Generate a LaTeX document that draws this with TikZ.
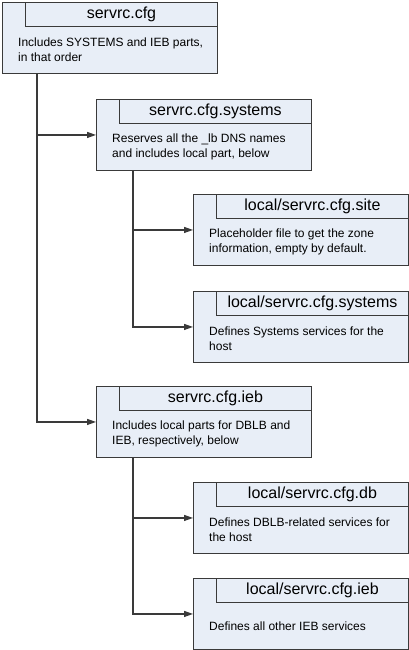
\documentclass[tikz,border=0pt]{standalone}
\usepackage{fontspec}
\setmainfont{Liberation Sans}
\usetikzlibrary{arrows.meta}
\definecolor{boxfill}{HTML}{E8EEF7}
\definecolor{edge}{HTML}{3A3A3A}
\tikzset{
  outer/.style={draw=edge, fill=boxfill, line width=0.9pt, minimum width=215pt, minimum height=71pt, anchor=north west, inner sep=0pt},
  titlebox/.style={draw=edge, fill=boxfill, line width=0.9pt, minimum width=192pt, minimum height=24pt, anchor=north east, inner sep=0pt, font=\fontsize{16}{18}\selectfont},
  bodytext/.style={anchor=west, align=left, inner sep=0pt, font=\fontsize{12}{14.5}\selectfont},
  conn/.style={draw=edge, line width=1.2pt, -{Triangle[length=9pt,width=6pt]}},
  plainconn/.style={draw=edge, line width=1.2pt}
}
\newcommand{\cfgbox}[5]{%
  \node[outer] (#1) at (#2,#3) {};
  \node[titlebox] (#1t) at (#1.north east) {#4};
  \node[bodytext] (#1b) at ([xshift=16pt,yshift=-12pt]#1.west) {#5};
}
\begin{document}
\begin{tikzpicture}[x=1pt,y=-1pt]
\useasboundingbox (0,0) rectangle (409,650);
\cfgbox{b1}{2}{2}{servrc.cfg}{Includes SYSTEMS and IEB parts,\\in that order}
\cfgbox{b2}{96}{99}{servrc.cfg.systems}{Reserves all the \_lb DNS names\\and includes local part, below}
\cfgbox{b3}{193}{194}{local/servrc.cfg.site}{Placeholder file to get the zone\\information, empty by default.}
\cfgbox{b4}{193}{291}{local/servrc.cfg.systems}{Defines Systems services for the\\host}
\cfgbox{b5}{96}{386}{servrc.cfg.ieb}{Includes local parts for DBLB and\\IEB, respectively, below}
\cfgbox{b6}{193}{482}{local/servrc.cfg.db}{Defines DBLB-related services for\\the host}
\cfgbox{b7}{193}{578}{local/servrc.cfg.ieb}{Defines all other IEB services}
\coordinate (t1) at ([xshift=35pt]b1.south west);
\coordinate (t2) at ([xshift=37pt]b2.south west);
\coordinate (t5) at ([xshift=37pt]b5.south west);
\draw[conn] (t1) |- (b5.west);
\draw[conn] (t1 |- b2.west) -- (b2.west);
\draw[conn] (t2) |- (b4.west);
\draw[conn] (t2 |- b3.west) -- (b3.west);
\draw[conn] (t5) |- (b7.west);
\draw[conn] (t5 |- b6.west) -- (b6.west);
\end{tikzpicture}
\end{document}
